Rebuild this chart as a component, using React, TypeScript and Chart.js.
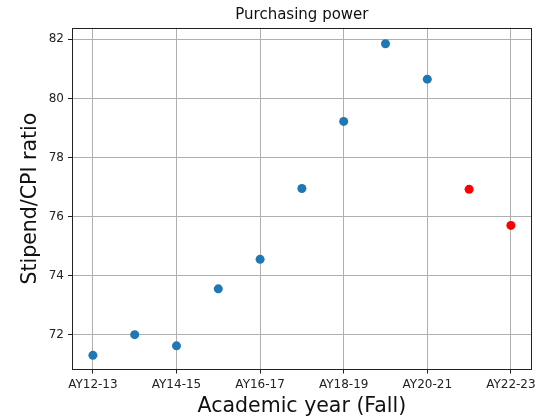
import React, { useEffect, useRef } from "react";
import { Chart, registerables } from "chart.js";

Chart.register(...registerables);

const categories = [
  "AY12-13", "AY13-14", "AY14-15", "AY15-16", "AY16-17", "AY17-18",
  "AY18-19", "AY19-20", "AY20-21", "AY21-22", "AY22-23",
];
const actualValues = [71.3, 72.0, 71.62, 73.55, 74.55, 76.95, 79.22, 81.85, 80.65];
const projectedValues = [76.92, 75.7];
const projectedStart = 9;
const yTicks = [72, 74, 76, 78, 80, 82];
const xTickIdx = [0, 2, 4, 6, 8, 10];

const FONT = "'DejaVu Sans', sans-serif";

export default function App() {
  const ref = useRef<HTMLCanvasElement>(null);
  useEffect(() => {
    document.body.style.margin = "0";
    const ctx = ref.current!;
    const framePlugin = {
      id: "frame",
      afterDraw(chart: any) {
        const { left, right, top, bottom } = chart.chartArea;
        const c = chart.ctx;
        c.save();
        c.strokeStyle = "#222";
        c.lineWidth = 1;
        c.strokeRect(Math.round(left) + 0.5, Math.round(top) + 0.5, Math.round(right - left) - 1, Math.round(bottom - top) - 1);
        c.restore();
      },
    };
    const chart = new Chart(ctx, {
      type: "scatter",
      data: {
        datasets: [
          {
            label: "Actual",
            data: actualValues.map((v, i) => ({ x: i, y: v })),
            backgroundColor: "#1f77b4",
            borderColor: "#1f77b4",
            pointRadius: 4.5,
            borderWidth: 0,
          },
          {
            label: "Projected",
            data: projectedValues.map((v, i) => ({ x: projectedStart + i, y: v })),
            backgroundColor: "#ff0000",
            borderColor: "#ff0000",
            pointRadius: 4.5,
            borderWidth: 0,
          },
        ],
      },
      options: {
        animation: false,
        responsive: false,
        devicePixelRatio: 1,
        layout: { padding: { left: 0, right: 8, top: 0, bottom: 0 } },
        plugins: {
          legend: { display: false },
          tooltip: { enabled: false },
          title: {
            display: true,
            fullSize: false,
            text: "Purchasing power",
            color: "#111",
            font: { family: FONT, size: 15, weight: "normal" },
            padding: { top: 6.3, bottom: 3.5 },
          },
        },
        scales: {
          x: {
            type: "linear",
            min: -0.5,
            max: 10.5,
            afterBuildTicks: (s: any) => {
              s.ticks = xTickIdx.map((v) => ({ value: v }));
            },
            afterFit: (s: any) => {
              s.height = 46.5;
            },
            ticks: {
              color: "#222",
              font: { family: FONT, size: 12 },
              padding: 4,
              maxRotation: 0,
              autoSkip: false,
              callback: (v: any) => categories[Math.round(Number(v))] ?? "",
            },
            grid: { color: "#b0b0b0", lineWidth: 1, tickColor: "#222", tickLength: 4, drawTicks: true },
            border: { display: false },
            title: {
              display: true,
              text: "Academic year (Fall)",
              color: "#111",
              font: { family: FONT, size: 20.5 },
              padding: { top: 0, bottom: -3 },
            },
          },
          y: {
            type: "linear",
            min: 70.82,
            max: 82.39,
            afterBuildTicks: (s: any) => {
              s.ticks = yTicks.map((v) => ({ value: v }));
            },
            afterFit: (s: any) => {
              s.width = 72;
            },
            ticks: {
              color: "#222",
              font: { family: FONT, size: 12 },
              padding: 4,
              callback: (v: any) => String(v),
            },
            grid: { color: "#b0b0b0", lineWidth: 1, tickColor: "#222", tickLength: 4, drawTicks: true },
            border: { display: false },
            title: {
              display: true,
              text: "Stipend/CPI ratio",
              color: "#111",
              font: { family: FONT, size: 20.5 },
              padding: { top: 18.4, bottom: 0 },
            },
          },
        },
      },
      plugins: [framePlugin],
    } as any);
    return () => chart.destroy();
  }, []);
  return (
    <div style={{ position: "absolute", left: 0, top: 0, width: 540, height: 416 }}>
      <canvas ref={ref} width={540} height={416} style={{ width: 540, height: 416 }} />
    </div>
  );
}
